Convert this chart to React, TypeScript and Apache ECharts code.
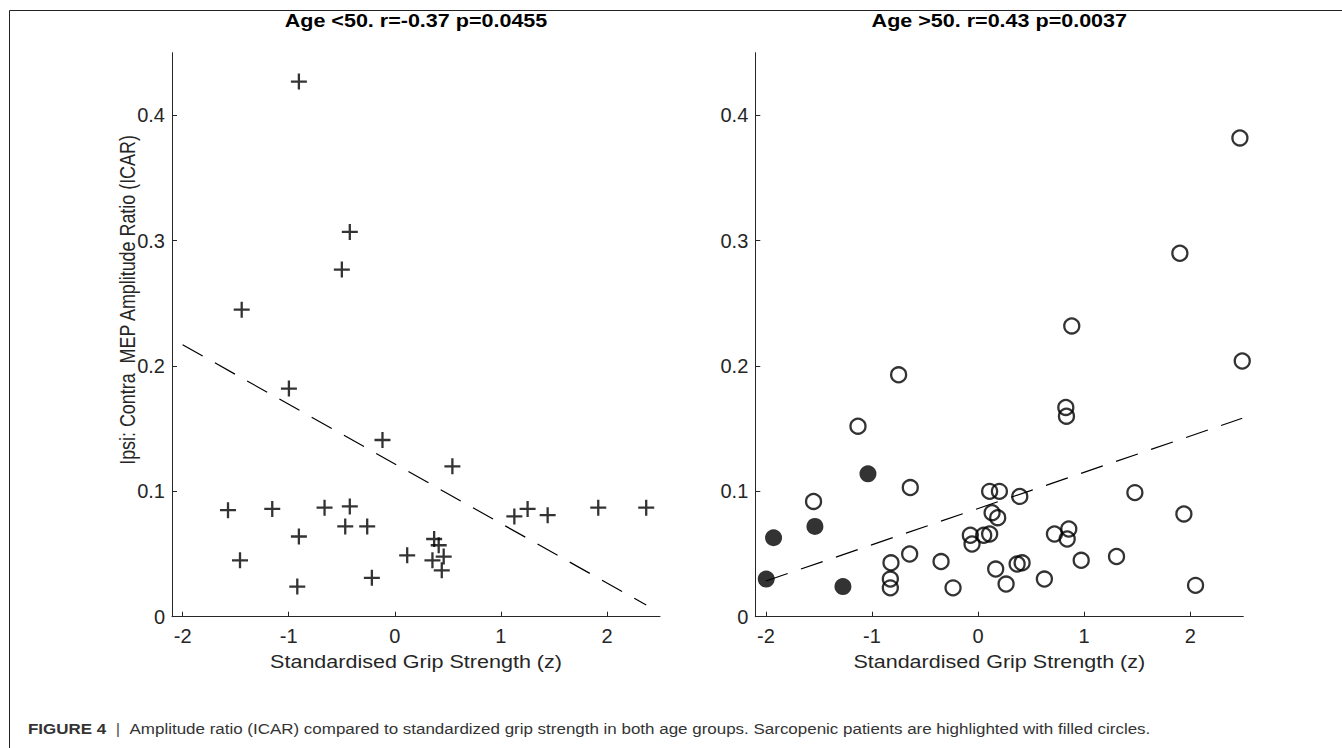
import React, { useEffect, useRef } from "react";
import * as echarts from "echarts";

// ---- data ----
const leftX = [-0.904, -0.424, -0.499, -1.443, -0.998, -0.116, 0.543, -1.572, -1.155, -0.662, -0.424, -0.467, -0.26, -0.904, -1.459, -0.919, -0.216, 0.117, 0.371, 0.414, 0.355, 0.461, 0.443, 1.127, 1.252, 1.441, 1.918, 2.37];
const leftY = [0.427, 0.307, 0.277, 0.245, 0.182, 0.141, 0.12, 0.085, 0.086, 0.087, 0.088, 0.072, 0.072, 0.064, 0.045, 0.024, 0.031, 0.049, 0.062, 0.057, 0.045, 0.048, 0.037, 0.08, 0.086, 0.081, 0.087, 0.087];

const rightOpenX = [2.468, 1.902, 0.883, 2.49, -0.749, -1.132, 0.827, 0.833, -0.639, -1.551, -0.821, -0.827, -0.827, -0.645, -0.349, -0.236, -0.073, -0.057, 0.053, 0.109, 0.109, 0.201, 0.132, 0.185, 0.393, 0.166, 0.264, 0.368, 0.415, 0.625, 0.72, 0.855, 0.84, 0.972, 1.305, 1.478, 1.94, 2.05];
const rightOpenY = [0.382, 0.29, 0.232, 0.204, 0.193, 0.152, 0.167, 0.16, 0.103, 0.092, 0.043, 0.03, 0.023, 0.05, 0.044, 0.023, 0.065, 0.058, 0.065, 0.066, 0.1, 0.1, 0.083, 0.079, 0.096, 0.038, 0.026, 0.042, 0.043, 0.03, 0.066, 0.07, 0.062, 0.045, 0.048, 0.099, 0.082, 0.025];
const rightFilledX = [-1.038, -1.538, -1.928, -1.997, -1.274];
const rightFilledY = [0.114, 0.072, 0.063, 0.03, 0.024];

const leftTrendX = [-2.0, 2.37];
const leftTrendY = [0.217, 0.0093];
const rightTrendX = [-2.0, 2.49];
const rightTrendY = [0.0285, 0.1583];

const xTicks = [-2, -1, 0, 1, 2];
const yTicks = [0, 0.1, 0.2, 0.3, 0.4];

const titles = ["Age <50. r=-0.37 p=0.0455", "Age >50. r=0.43 p=0.0037"];
const xLabel = "Standardised Grip Strength (z)";
const yLabel = "Ipsi: Contra  MEP Amplitude Ratio (ICAR)";
const captionHead = "FIGURE 4";
const captionBody =
  "Amplitude ratio (ICAR) compared to standardized grip strength in both age groups. Sarcopenic patients are highlighted with filled circles.";

const FONT = "'Liberation Sans', Arial, Helvetica, sans-serif";
const AXIS_COLOR = "#262626";
const STRETCH = 1.23;

const zip = (xs: number[], ys: number[]) => xs.map((x, i) => [x, ys[i]]);

export default function App() {
  const ref = useRef<HTMLDivElement>(null);

  useEffect(() => {
    if (!ref.current) return;
    const chart = echarts.init(ref.current, null, { renderer: "svg" });

    const grids = [
      { left: 172, top: 52.7, width: 488, height: 564 },
      { left: 755.3, top: 52.7, width: 488, height: 564 },
    ];
    const centers = grids.map((g) => g.left + g.width / 2);

    const xAxis = grids.map((_, i) => ({
      type: "value",
      gridIndex: i,
      min: -2.1,
      max: 2.5,
      splitLine: { show: false },
      axisLine: { show: true, onZero: false, lineStyle: { color: AXIS_COLOR, width: 1 } },
      axisTick: { show: true, inside: true, length: 5, customValues: xTicks, lineStyle: { color: AXIS_COLOR } },
      axisLabel: {
        customValues: xTicks,
        color: AXIS_COLOR,
        fontSize: 20,
        fontFamily: FONT,
        margin: 9,
      },
    }));

    const yAxis = grids.map((_, i) => ({
      type: "value",
      gridIndex: i,
      min: 0,
      max: 0.45,
      splitLine: { show: false },
      axisLine: { show: true, onZero: false, lineStyle: { color: AXIS_COLOR, width: 1 } },
      axisTick: { show: true, inside: true, length: 5, customValues: yTicks, lineStyle: { color: AXIS_COLOR } },
      axisLabel: {
        customValues: yTicks,
        color: AXIS_COLOR,
        fontSize: 20,
        fontFamily: FONT,
        margin: 7,
        formatter: (v: number) => (v === 0 ? "0" : v.toFixed(1)),
      },
    }));

    const crossPath = "path://M0,8L16,8M8,0L8,16";

    const textEl = (text: string, x: number, y: number, extra: any, style: any) => ({
      type: "text",
      x,
      y,
      ...extra,
      style: { text, fontFamily: FONT, align: "center", verticalAlign: "middle", ...style },
    });

    const option = {
      animation: false,
      grid: grids,
      xAxis,
      yAxis,
      series: [
        {
          type: "line",
          xAxisIndex: 0,
          yAxisIndex: 0,
          data: zip(leftTrendX, leftTrendY),
          showSymbol: false,
          symbol: "none",
          lineStyle: { color: "#000", width: 1.2, type: [23, 14] },
          z: 1,
        },
        {
          type: "scatter",
          xAxisIndex: 0,
          yAxisIndex: 0,
          data: zip(leftX, leftY),
          symbol: crossPath,
          symbolSize: 16,
          itemStyle: { color: "transparent", borderColor: "#000", borderWidth: 2.3 },
          z: 2,
        },
        {
          type: "line",
          xAxisIndex: 1,
          yAxisIndex: 1,
          data: zip(rightTrendX, rightTrendY),
          showSymbol: false,
          symbol: "none",
          lineStyle: { color: "#000", width: 1.2, type: [23, 14] },
          z: 1,
        },
        {
          type: "scatter",
          xAxisIndex: 1,
          yAxisIndex: 1,
          data: zip(rightOpenX, rightOpenY),
          symbol: "circle",
          symbolSize: 15,
          itemStyle: { color: "transparent", borderColor: "#000", borderWidth: 2.3 },
          z: 2,
        },
        {
          type: "scatter",
          xAxisIndex: 1,
          yAxisIndex: 1,
          data: zip(rightFilledX, rightFilledY),
          symbol: "circle",
          symbolSize: 17,
          itemStyle: { color: "#000" },
          z: 3,
        },
      ],
      graphic: [
        { type: "line", shape: { x1: 9.5, y1: 10.5, x2: 1342, y2: 10.5 }, style: { stroke: "#222", lineWidth: 1 } },
        { type: "line", shape: { x1: 9.5, y1: 10.5, x2: 9.5, y2: 748 }, style: { stroke: "#222", lineWidth: 1 } },
        textEl(titles[0], centers[0], 21, { scaleX: STRETCH }, { fontSize: 17.5, fontWeight: "bold", fill: "#000" }),
        textEl(titles[1], centers[1], 21, { scaleX: STRETCH }, { fontSize: 17.5, fontWeight: "bold", fill: "#000" }),
        textEl(xLabel, centers[0], 662, { scaleX: STRETCH }, { fontSize: 17.5, fill: AXIS_COLOR }),
        textEl(xLabel, centers[1], 662, { scaleX: STRETCH }, { fontSize: 17.5, fill: AXIS_COLOR }),
        textEl(yLabel, 127, 300, { rotation: Math.PI / 2, scaleY: STRETCH }, { fontSize: 17.9, fill: AXIS_COLOR }),
        {
          type: "text",
          x: 28,
          y: 729,
          scaleX: STRETCH,
          style: {
            text: `{b|${captionHead}}{s|  |  }{n|${captionBody}}`,
            fontFamily: FONT,
            verticalAlign: "middle",
            rich: {
              b: { fontSize: 13.8, fontWeight: "bold", fill: "#333", fontFamily: FONT },
              s: { fontSize: 13.8, fill: "#555", fontFamily: FONT },
              n: { fontSize: 13.8, fill: "#333", fontFamily: FONT },
            },
          },
        },
      ],
    };

    chart.setOption(option as any);
    return () => chart.dispose();
  }, []);

  return (
    <div
      ref={ref}
      style={{ position: "fixed", left: 0, top: 0, width: 1342, height: 748, background: "#fff" }}
    />
  );
}
